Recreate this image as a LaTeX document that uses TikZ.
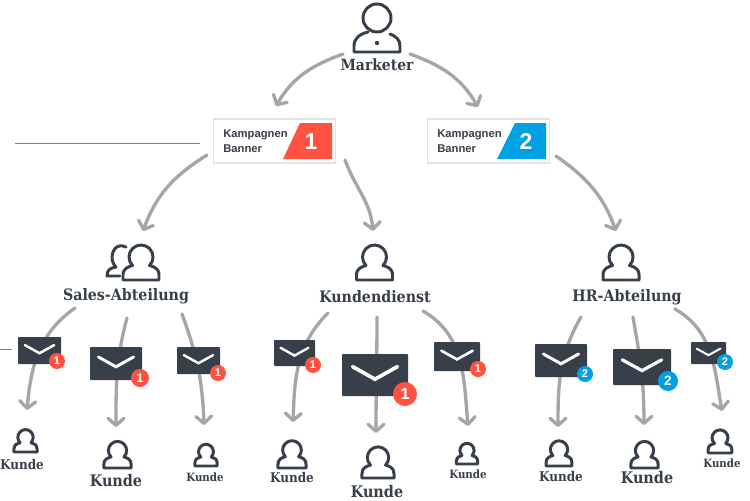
\documentclass[tikz,border=0pt]{standalone}
\usepackage{fontspec}
\setmainfont{DejaVu Serif Condensed}
\setsansfont{Liberation Sans}
\usetikzlibrary{arrows.meta}
\definecolor{ink}{HTML}{373F4A}
\definecolor{flow}{HTML}{A6A6A6}
\definecolor{red1}{HTML}{FF5240}
\definecolor{blue2}{HTML}{00A0E3}
\definecolor{frame}{HTML}{E2E2E2}
\definecolor{strayline}{HTML}{808080}

\tikzset{
  flowarrow/.style={flow,line width=1.9pt,line cap=round,-{Straight Barb[length=4pt,width=9pt,round]}},
  iconline/.style={ink,line width=1.7pt,line join=round,line cap=round},
  thinline/.style={strayline,line width=0.5pt},
  label/.style={ink,font=\bfseries\fontsize{#1}{#1}\selectfont,inner sep=0pt},
  bannerbox/.style={draw=frame,fill=white,line width=0.6pt,minimum width=2.44cm,minimum height=0.88cm,inner sep=0pt},
  bannertext/.style={ink,font=\sffamily\bfseries\fontsize{6.4}{8.6}\selectfont,align=left,anchor=west,inner sep=0pt},
  bannernum/.style={white,font=\sffamily\bfseries\fontsize{13}{13}\selectfont,inner sep=0pt},
}

% x, bottom y, scale
\newcommand{\person}[3]{
  \begin{scope}[shift={(#1,#2)},scale=#3]
    \draw[iconline] (8.5,-14.5) arc[start angle=45,end angle=-225,radius=12]
      .. controls (-12,-13.5) and (-18,-12) .. (-18,-5) -- (-18,0) -- (18,0) -- (18,-5)
      .. controls (18,-12) and (12,-13.5) .. cycle;
  \end{scope}
}

% x1, y1, x2, y2, badge x, badge y, badge r, colour, number
\newcommand{\mailicon}[9]{
  \pgfmathsetmacro{\mx}{(#1+#3)/2}
  \pgfmathsetmacro{\ma}{#1+0.16*(#3-#1)}
  \pgfmathsetmacro{\mb}{#3-0.16*(#3-#1)}
  \pgfmathsetmacro{\mu}{#2+0.3*(#4-#2)}
  \pgfmathsetmacro{\mv}{#2+0.6*(#4-#2)}
  \pgfmathsetmacro{\mw}{0.048*(#4-#2)+0.1}
  \pgfmathsetmacro{\mf}{0.72*#7+0.5}
  \fill[ink,rounded corners=0.5pt] (#1,#2) rectangle (#3,#4);
  \draw[white,line width=\mw pt,line cap=round,line join=miter] (\ma,\mu) -- (\mx,\mv) -- (\mb,\mu);
  \fill[#8] (#5,#6) circle[radius=#7];
  \node[white,inner sep=0pt,font=\sffamily\bfseries\fontsize{\mf}{\mf}\selectfont] (badge#5) at (#5,#6) {#9};
}

\begin{document}
\begin{tikzpicture}[x=0.02cm,y=-0.02cm]

  \fill[white] (0,0) rectangle (750,500);
  \useasboundingbox (0,0) rectangle (750,500);

  % STRAY LINES
  \coordinate (lineA) at (15,143);
  \coordinate (lineB) at (200,143);
  \coordinate (lineC) at (0,349);
  \coordinate (lineD) at (12,349);
  \draw[thinline] (lineA) -- (lineB);
  \draw[thinline] (lineC) -- (lineD);

  % LABELS
  \node[label=8.8] (marketer) at (377,65) {Marketer};
  \node[label=9] (sales) at (126,296) {Sales-Abteilung};
  \node[label=9] (service) at (375,297) {Kundendienst};
  \node[label=9] (hr) at (627,297) {HR-Abteilung};

  \node[label=7.6] (k11) at (22,465) {Kunde};
  \node[label=9.1] (k12) at (116,481) {Kunde};
  \node[label=6.5] (k13) at (205,477) {Kunde};
  \node[label=7.6] (k21) at (292,478) {Kunde};
  \node[label=9.1] (k22) at (377,492) {Kunde};
  \node[label=6.5] (k23) at (468,474) {Kunde};
  \node[label=7.6] (k31) at (561,477) {Kunde};
  \node[label=9.1] (k32) at (647,478) {Kunde};
  \node[label=6.5] (k33) at (722,463) {Kunde};

  % BANNERS
  \node[bannerbox] (banner1) at (274.5,141) {};
  \node[bannerbox] (banner2) at (488.5,141) {};
  \fill[red1] (283,159) -- (300,123) -- (332,123) -- (332,159) -- cycle;
  \fill[blue2] (497,159) -- (515,123) -- (546,123) -- (546,159) -- cycle;
  \node[bannertext] (text1) at (223,141) {Kampagnen\\Banner};
  \node[bannertext] (text2) at (437,141) {Kampagnen\\Banner};
  \node[bannernum] (num1) at (311,142) {1};
  \node[bannernum] (num2) at (526,142) {2};

  % ARROW ENDS
  \foreach \name/\x/\y in {
    a1/343/54, a2/276/106, a3/410/54, a4/478/107,
    b1/207/155, b2/143/231, b3/345/160, b4/373/231, b5/556/156, b6/616/231,
    s1/75/308, s2/27/410, s3/127/318, s4/116/427, s5/182/314, s6/204/425,
    d1/328/313, d2/293/422, d3/377/317, d4/376/433, d5/423/311, d6/468/426,
    h1/581/317, h2/558/427, h3/633/317, h4/644/425, h5/675/309, h6/722/411}{
    \coordinate (\name) at (\x,\y);
  }

  % ARROWS
  \foreach \from/\to/\o/\i in {
    a1/a2/200/60, a3/a4/-20/120,
    b1/b2/212/70, b3/b4/-70/95, b5/b6/-35/110,
    s1/s2/215/85, s3/s4/255/90, s5/s6/-70/92,
    d1/d2/225/88, d3/d4/-90/90, d5/d6/-30/95,
    h1/h2/240/90, h3/h4/-80/90, h5/h6/-30/100}{
    \draw[flowarrow] (\from) to[out=\o,in=\i] (\to);
  }

  % MARKETER ICON
  \draw[iconline] (377,18) circle[radius=14];
  \draw[iconline] (368,32) .. controls (360,34) and (354,38) .. (354,46) -- (354,52) -- (400,52) -- (400,46)
    .. controls (400,40) and (396,36) .. (390,34);
  \fill[ink] (377,43) circle[radius=2.2];

  % PERSONS
  \person{141}{280}{1}
  \draw[iconline] (126,247) .. controls (117,243) and (112,250) .. (112,257)
    .. controls (112,262) and (114,265) .. (116,267) .. controls (110,268) and (107,270) .. (107,276) -- (120,276);
  \person{374.5}{280}{1}
  \person{621}{280}{1}
  \foreach \x/\y/\s in {
    25.5/452/0.64, 117.5/468/0.76, 206/466/0.62,
    292/468/0.78, 378/478/0.89, 467/464/0.59,
    559/466/0.72, 644.5/468/0.76, 720/453/0.66}{
    \person{\x}{\y}{\s}
  }

  % MAILS
  \mailicon{18}{337}{61}{364}{57}{361}{8}{red1}{1}
  \mailicon{90}{347}{142}{380}{140}{378}{9}{red1}{1}
  \mailicon{177}{347}{220}{374}{218}{373}{8}{red1}{1}
  \mailicon{274}{340}{315}{366}{313}{365}{8}{red1}{1}
  \mailicon{342}{354}{408}{396}{405}{394}{12}{red1}{1}
  \mailicon{434}{342}{480}{371}{478}{369}{8}{red1}{1}
  \mailicon{535}{344}{587}{377}{585}{374}{8}{blue2}{2}
  \mailicon{613}{349}{671}{385}{668}{381}{10}{blue2}{2}
  \mailicon{691}{342}{726}{364}{725}{362}{8}{blue2}{2}

\end{tikzpicture}
\end{document}
